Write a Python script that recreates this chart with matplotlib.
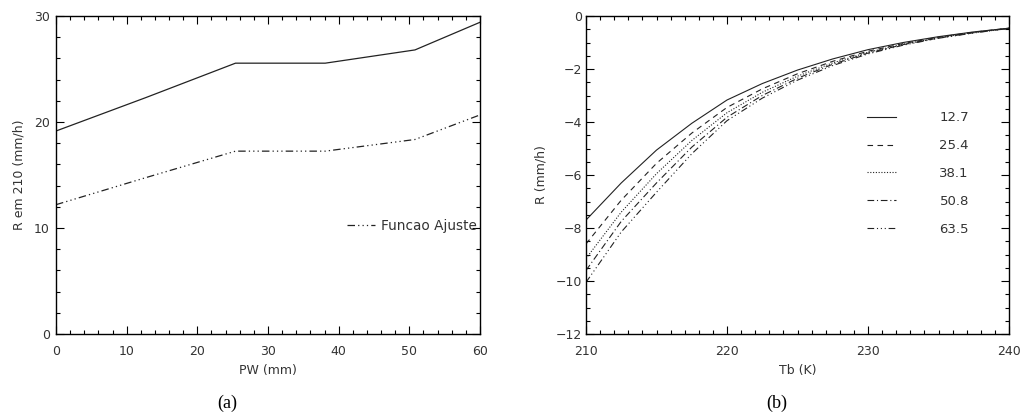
import numpy as np
import matplotlib
matplotlib.use("Agg")
import matplotlib.pyplot as plt
from matplotlib.ticker import MultipleLocator

# (a) R em Tb=210 K vs PW
pw = [0, 12.7, 25.4, 38.1, 50.8, 63.5]
r210 = [19.15, 22.3, 25.55, 25.55, 26.8, 30.4]
r210_fit = [12.2, 14.75, 17.25, 17.25, 18.35, 21.55]

# (b) R vs Tb, one curve per PW
tb = [210, 212.5, 215, 217.5, 220, 222.5, 225, 227.5, 230, 232.5, 235, 237.5, 240]
pw_labels = ["12.7", "25.4", "38.1", "50.8", "63.5"]
r_127 = [-7.7, -6.3, -5.06, -4.05, -3.17, -2.55, -2.04, -1.62, -1.27, -1.0, -0.78, -0.6, -0.46]
r_254 = [-8.6, -6.95, -5.56, -4.42, -3.45, -2.75, -2.18, -1.71, -1.33, -1.04, -0.8, -0.61, -0.46]
r_381 = [-9.15, -7.4, -5.95, -4.7, -3.65, -2.88, -2.27, -1.77, -1.37, -1.06, -0.82, -0.62, -0.46]
r_508 = [-9.6, -7.75, -6.3, -4.95, -3.82, -3.0, -2.35, -1.82, -1.40, -1.08, -0.83, -0.63, -0.47]
r_635 = [-10.05, -8.15, -6.65, -5.2, -3.95, -3.1, -2.42, -1.87, -1.43, -1.1, -0.84, -0.64, -0.47]

styles = ["-", (0, (5, 4)), (0, (1, 1.5)), (0, (6, 2.5, 1, 2.5)),
          (0, (6, 2.5, 1, 2.5, 1, 2.5, 1, 2.5))]
lc = "#222222"
tc = "#333333"

fig = plt.figure(figsize=(10.21, 4.12), dpi=100)
axL = fig.add_axes([56/1021, 1-334/412, 424/1021, 318/412])
axR = fig.add_axes([586/1021, 1-334/412, 423/1021, 318/412])


def idl_style(ax, xmaj, xmin, ymaj, ymin, ypad):
    ax.xaxis.set_major_locator(MultipleLocator(xmaj))
    ax.xaxis.set_minor_locator(MultipleLocator(xmin))
    ax.yaxis.set_major_locator(MultipleLocator(ymaj))
    ax.yaxis.set_minor_locator(MultipleLocator(ymin))
    ax.tick_params(which="both", direction="in", top=True, right=True,
                   colors="k", labelcolor=tc, labelsize=9, width=0.8)
    ax.tick_params(which="major", length=6)
    ax.tick_params(which="minor", length=3.2)
    ax.tick_params(axis="x", pad=8)
    ax.tick_params(axis="y", pad=ypad)
    for s in ax.spines.values():
        s.set_linewidth(1.0)


# ---- (a)
axL.plot(pw, r210, color=lc, lw=0.9)
axL.plot(pw, r210_fit, color=lc, lw=0.9, ls=styles[4], label="Funcao Ajuste")
axL.set_xlim(0, 60)
axL.set_ylim(0, 30)
idl_style(axL, 10, 2, 10, 2, 4.5)
axL.set_xlabel("PW (mm)", fontsize=9, color=tc, labelpad=4)
axL.set_ylabel("R em 210 (mm/h)", fontsize=9, color=tc, labelpad=6)
axL.legend(loc="center left", bbox_to_anchor=(0.686, 0.34), frameon=False,
           fontsize=9.8, handlelength=2.1, handletextpad=0.4,
           borderaxespad=0, borderpad=0, labelcolor=tc)

# ---- (b)
for vals, lab, ls in zip([r_127, r_254, r_381, r_508, r_635], pw_labels, styles):
    axR.plot(tb, vals, color=lc, lw=0.8, ls=ls, label=lab)
axR.set_xlim(210, 240)
axR.set_ylim(-12, 0)
idl_style(axR, 10, 1, 2, 0.5, 3)
axR.set_xlabel("Tb (K)", fontsize=9, color=tc, labelpad=4)
axR.set_ylabel("R (mm/h)", fontsize=9, color=tc, labelpad=6)
axR.legend(loc="upper left", bbox_to_anchor=(0.664, 0.70), frameon=False,
           fontsize=9.5, handlelength=2.2, handletextpad=3.3, labelspacing=1.12,
           borderaxespad=0, borderpad=0, labelcolor=tc)

fig.text(227/1021, 1-403/412, "(a)", ha="center", va="center",
         fontsize=13, family="Liberation Serif")
fig.text(777/1021, 1-403/412, "(b)", ha="center", va="center",
         fontsize=13, family="Liberation Serif")

fig.savefig("out.png", dpi=100)
